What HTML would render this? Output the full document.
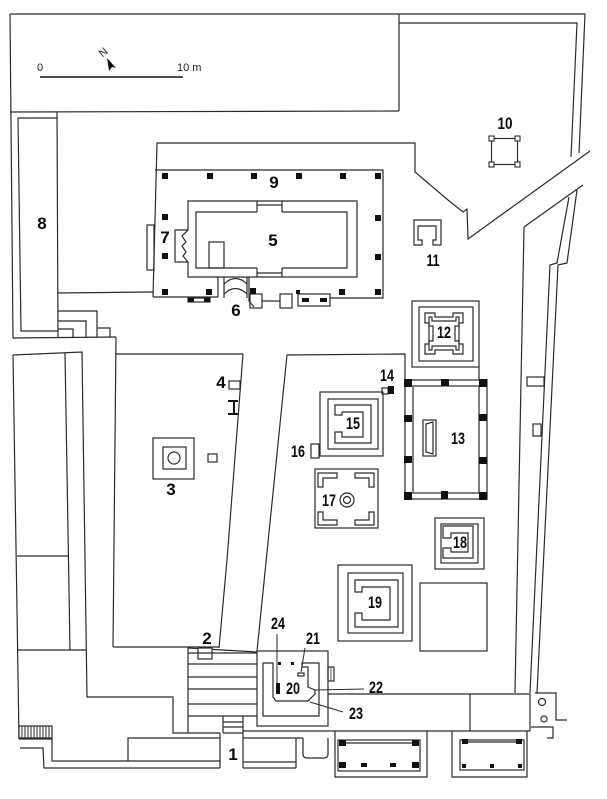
<!DOCTYPE html>
<html><head><meta charset="utf-8"><style>
html,body{margin:0;padding:0;background:#fff;}
svg{display:block}
.l{font-family:"Liberation Sans Narrow","Liberation Sans",sans-serif;font-weight:bold;font-size:17px;fill:#0a0a0a;text-anchor:middle}
.s{font-family:"Liberation Sans",sans-serif;font-size:11px;fill:#222}
</style></head><body>
<svg width="607" height="799" viewBox="0 0 607 799" xmlns="http://www.w3.org/2000/svg">
<rect width="607" height="799" fill="#fff"/>
<g fill="none" stroke="#2a2a2a" stroke-width="1.2" stroke-linejoin="miter">
<!-- top frame -->
<polyline points="10,14 585,14 579,153"/>
<line x1="10" y1="14" x2="13" y2="338"/>
<line x1="10" y1="112" x2="399" y2="111"/>
<line x1="399" y1="14" x2="399" y2="111"/>
<polyline points="399,23 577,23 571,157"/>
<!-- column 8 -->
<line x1="57" y1="112" x2="58" y2="337"/>
<polyline points="57,118 18,118 21,331 58,331"/>
<line x1="58" y1="293" x2="153" y2="292"/>
<polyline points="58,311 97,311 97,337"/>
<polyline points="58,321 86,321 86,337"/>
<polyline points="58,329 73,329 73,337"/>
<polyline points="97,328 110,328 110,337"/>
<line x1="13" y1="338" x2="116" y2="337"/>
<line x1="116" y1="337" x2="113" y2="647"/>
<!-- left courtyard -->
<line x1="116" y1="354" x2="243" y2="354"/>
<polyline points="243,354 227,560 219,648"/>
<line x1="113" y1="647" x2="219" y2="647"/>
<!-- left lower blocks -->
<polyline points="13,355 82,352 87,697 173,697 173,733 220,733"/>
<line x1="13" y1="355" x2="19" y2="739"/>
<line x1="65" y1="353" x2="70" y2="650"/>
<line x1="17" y1="556" x2="68" y2="556"/>
<line x1="17" y1="650" x2="86" y2="650"/>
<rect x="19" y="726" width="33" height="12"/>
<path d="M22,726V738M25,726V738M28,726V738M31,726V738M34,726V738M37,726V738M40,726V738M43,726V738M46,726V738M49,726V738" stroke-width="1"/>
<polyline points="19,739 52,739 52,761 220,761"/>
<polyline points="20,748 43,748 44,768 220,768"/>
<polyline points="128,761 128,738 220,738"/>
<line x1="220" y1="733" x2="220" y2="768"/>
<!-- stairs -->
<line x1="188" y1="647" x2="188" y2="733"/>
<line x1="188" y1="648" x2="257" y2="652"/>
<rect x="198" y="648" width="14" height="11" fill="#fff"/>
<path d="M188,653H257M188,664H257M188,677H257M188,689H257M188,704H257M188,716H257"/>
<path d="M223,716V733M243,716V768M223,722H243M223,727H243M223,733H243"/>
<line x1="243" y1="738" x2="303" y2="738"/>
<line x1="243" y1="731" x2="530" y2="731"/>
<path d="M243,762H296M296,738V768M243,768H296"/>
<!-- enclosure 20 -->
<rect x="257" y="651" width="71" height="75"/>
<path d="M263,663 H273 V697 L276,701 H308 L315,694 V690 L308,687 V667 L302,667 V663 H319 V716 H263 Z"/>
<rect x="298" y="673" width="6" height="3"/>
<line x1="305" y1="648" x2="301" y2="672" stroke-width="1"/>
<line x1="277" y1="634" x2="277" y2="683" stroke-width="1"/>
<line x1="315" y1="690" x2="364" y2="689" stroke-width="1"/>
<line x1="310" y1="702" x2="343" y2="712" stroke-width="1"/>
<rect x="328" y="667" width="6" height="14"/>
<line x1="331" y1="667" x2="331" y2="681" stroke-width="0.8"/>
<!-- band -->
<path d="M328,694H530V731M470,694V731"/>
<polyline points="535,693 556,693 556,720 567,720"/>
<circle cx="542" cy="702" r="3.5"/>
<circle cx="544" cy="719" r="3"/>
<polyline points="531,727 553,727 553,738 547,738"/>
<!-- lower buildings -->
<path d="M303,738 V754 Q303,758 307,758 H324 Q328,758 328,754 V738"/>
<polyline points="335,731 335,777 427,777 427,731"/>
<rect x="338" y="740" width="82" height="31"/>
<line x1="342" y1="743" x2="415" y2="743"/>
<polyline points="452,731 452,777 527,777 527,731"/>
<rect x="460" y="740" width="64" height="30"/>
<line x1="465" y1="742" x2="519" y2="742"/>
<!-- temple platform -->
<polyline points="153,297 157,143 415,143 415,172 448,200 463,212 467,209 468,239 590,151"/>
<polyline points="155,170 383,170 383,298 330,298"/>
<line x1="153" y1="297" x2="218" y2="297"/>
<line x1="218" y1="277" x2="218" y2="297"/>
<rect x="147" y="225" width="7" height="45"/>
<!-- temple 5 -->
<path d="M188,201 H357 V277 H188 V262 L183,256 L186,252 L182,246 L186,242 L182,236 L188,230 Z"/>
<path d="M188,230 H175 V262 H188"/>
<path d="M257,212 H196 V268 H257 M282,268 H347 V212 H282"/>
<path d="M257,201 V212 M282,201 V212 M257,205 H282 M257,268 V277 M282,268 V277 M257,273 H282"/>
<rect x="209" y="242" width="15" height="26"/>
<!-- 6 -->
<path d="M224,277 V298 M224,284 Q235.5,273 247,284 M224,294 Q235.5,283 247,294 M247,277 V298 M249,277 V301 L254,307"/>
<rect x="250" y="294" width="12" height="14"/>
<line x1="262" y1="301" x2="280" y2="301"/>
<rect x="280" y="294" width="12" height="14"/>
<rect x="298" y="294" width="32" height="12"/>
<rect x="188" y="298" width="22" height="4"/>
<!-- 10 -->
<rect x="491.5" y="138.5" width="26" height="26"/>
<!-- 11 -->
<path d="M414,245 V220 H441 V245 H433 V240 H436 V226 H418 V240 H422 V245 Z"/>
<!-- right boundary -->
<line x1="583" y1="185" x2="524" y2="227"/>
<line x1="524" y1="227" x2="515" y2="693"/>
<polyline points="569,197 557,263 550,265 530,693"/>
<polyline points="577,190 567,263 558,265 537,693"/>
<rect x="527" y="377" width="17" height="9"/>
<rect x="533" y="424" width="8" height="12"/>
<!-- courtyard -->
<polyline points="257,651 287,355 405,354 405,380"/>
<!-- 12 -->
<rect x="412" y="301" width="67" height="66"/>
<rect x="419" y="307" width="54" height="54"/>
<line x1="479" y1="367" x2="479" y2="380"/>
<path d="M425,313 H435 V317 H453 V313 H463 V323 H459 V344 H463 V354 H453 V350 H435 V354 H425 V344 H429 V323 H425 Z"/>
<path d="M429,317 H432 V321 H456 V317 H459 V326 H455 V341 H459 V350 H456 V346 H432 V350 H429 V341 H433 V326 H429 Z"/>
<!-- 13 -->
<rect x="405" y="380" width="82" height="119"/>
<rect x="413" y="386" width="66" height="107"/>
<rect x="423" y="420" width="13" height="36"/>
<polygon points="426,424 433,422 433,454 426,452"/>
<!-- 14 -->
<rect x="382" y="388" width="6" height="6"/>
<!-- 15 -->
<rect x="320" y="392" width="63" height="64"/>
<rect x="328" y="399" width="50" height="50"/>
<path d="M335,405 H371 V443 H335 V432 H342 V437 H363 V412 H342 V415 H335 Z"/>
<!-- 16 -->
<rect x="311" y="444" width="8" height="14"/>
<!-- 17 -->
<rect x="315" y="469" width="63" height="59"/>
<path d="M318,473 H337 V478 H323 V487 H318 Z"/>
<path d="M374,473 H355 V478 H369 V487 H374 Z"/>
<path d="M318,525 H337 V520 H323 V512 H318 Z"/>
<path d="M374,525 H355 V520 H369 V512 H374 Z"/>
<circle cx="347" cy="500" r="7"/>
<circle cx="347" cy="500" r="3.5"/>
<!-- 18 -->
<rect x="435" y="518" width="49" height="51"/>
<rect x="441" y="524" width="37" height="39"/>
<path d="M443,526 H473 V558 H443 V548 H451 V552 H468 V533 H451 V538 H443 Z"/>
<!-- 19 -->
<rect x="338" y="565" width="74" height="76"/>
<rect x="348" y="573" width="55" height="60"/>
<path d="M355,580 H398 V627 H355 V613 H362 V620 H390 V587 H362 V592 H355 Z"/>
<rect x="420" y="583" width="67" height="68"/>
<!-- 3,4 -->
<rect x="153" y="438" width="41" height="41"/>
<rect x="163" y="447" width="23" height="22"/>
<circle cx="174" cy="458" r="6"/>
<rect x="208" y="454" width="9" height="8"/>
<rect x="229" y="381" width="11" height="8"/>
<!-- scale bar -->
<line x1="40" y1="77" x2="183" y2="77" stroke="#111" stroke-width="1.4"/>
</g>
<!-- filled black -->
<g fill="#111" stroke="none">
<rect x="162" y="173" width="6" height="6"/><rect x="207" y="173" width="6" height="6"/><rect x="251" y="173" width="6" height="6"/><rect x="296" y="173" width="6" height="6"/><rect x="340" y="173" width="6" height="6"/><rect x="375" y="173" width="6" height="6"/>
<rect x="162" y="214" width="6" height="6"/><rect x="162" y="253" width="6" height="6"/><rect x="162" y="289" width="6" height="6"/>
<rect x="206" y="289" width="6" height="6"/><rect x="250" y="288" width="6" height="6"/><rect x="339" y="289" width="6" height="6"/><rect x="375" y="289" width="6" height="6"/>
<rect x="375" y="215" width="6" height="6"/><rect x="375" y="254" width="6" height="6"/>
<rect x="296" y="290" width="4" height="4"/>
<rect x="302" y="298" width="7" height="4"/><rect x="320" y="298" width="7" height="4"/>
<rect x="188" y="298" width="6" height="4"/><rect x="204" y="298" width="6" height="4"/>
<rect x="404" y="379" width="8" height="8"/><rect x="441" y="379" width="8" height="7"/><rect x="479" y="379" width="8" height="8"/>
<rect x="404" y="415" width="8" height="7"/><rect x="404" y="456" width="8" height="7"/>
<rect x="479" y="414" width="8" height="7"/><rect x="479" y="457" width="8" height="7"/>
<rect x="404" y="492" width="8" height="8"/><rect x="441" y="491" width="7" height="8"/><rect x="479" y="492" width="8" height="8"/>
<rect x="388" y="386" width="6" height="8"/>
<rect x="228" y="400" width="10" height="2"/><rect x="233" y="400" width="2" height="15"/><rect x="228" y="413" width="10" height="2"/>
<rect x="278" y="662" width="3" height="3"/><rect x="291" y="662" width="3" height="3"/>
<rect x="276" y="683" width="4" height="11"/>
<rect x="339" y="740" width="7" height="6"/><rect x="412" y="740" width="7" height="6"/>
<rect x="339" y="762" width="7" height="6"/><rect x="361" y="763" width="6" height="4"/><rect x="390" y="763" width="6" height="4"/><rect x="412" y="762" width="7" height="6"/>
<rect x="462" y="739" width="6" height="5"/><rect x="516" y="739" width="6" height="5"/>
<rect x="462" y="764" width="4" height="4"/><rect x="490" y="764" width="4" height="4"/><rect x="518" y="764" width="4" height="4"/>
<polygon points="107,58 116,68 112,67 109,71"/>
</g>
<!-- 10 corner squares -->
<g fill="#fff" stroke="#2a2a2a" stroke-width="1.1">
<rect x="489" y="136" width="5" height="5"/><rect x="515" y="136" width="5" height="5"/>
<rect x="489" y="162" width="5" height="5"/><rect x="515" y="162" width="5" height="5"/>
</g>
<!-- scale text -->
<text class="s" x="37" y="71">0</text>
<text class="s" x="177" y="71">10 m</text>
<text class="s" x="103" y="56" transform="rotate(-40 103 52)" text-anchor="middle">N</text>
<!-- labels -->
<g>
<text class="l" x="42" y="229">8</text>
<text class="l" x="274" y="188">9</text>
<text class="l" x="273" y="246">5</text>
<text class="l" x="165" y="243">7</text>
<text class="l" x="236" y="316">6</text>
<text class="l" x="505" y="129" textLength="15" lengthAdjust="spacingAndGlyphs">10</text>
<text class="l" x="433" y="266" textLength="13" lengthAdjust="spacingAndGlyphs">11</text>
<text class="l" x="444" y="338" textLength="14" lengthAdjust="spacingAndGlyphs">12</text>
<text class="l" x="221" y="388">4</text>
<text class="l" x="387" y="381" textLength="14" lengthAdjust="spacingAndGlyphs">14</text>
<text class="l" x="171" y="495">3</text>
<text class="l" x="353" y="429" textLength="14" lengthAdjust="spacingAndGlyphs">15</text>
<text class="l" x="458" y="444" textLength="14" lengthAdjust="spacingAndGlyphs">13</text>
<text class="l" x="298" y="457" textLength="14" lengthAdjust="spacingAndGlyphs">16</text>
<text class="l" x="329" y="506" textLength="14" lengthAdjust="spacingAndGlyphs">17</text>
<text class="l" x="460" y="548" textLength="14" lengthAdjust="spacingAndGlyphs">18</text>
<text class="l" x="375" y="608" textLength="14" lengthAdjust="spacingAndGlyphs">19</text>
<text class="l" x="207" y="644">2</text>
<text class="l" x="278" y="629" textLength="14" lengthAdjust="spacingAndGlyphs">24</text>
<text class="l" x="313" y="644" textLength="14" lengthAdjust="spacingAndGlyphs">21</text>
<text class="l" x="293" y="694" textLength="14" lengthAdjust="spacingAndGlyphs">20</text>
<text class="l" x="376" y="693" textLength="14" lengthAdjust="spacingAndGlyphs">22</text>
<text class="l" x="356" y="719" textLength="14" lengthAdjust="spacingAndGlyphs">23</text>
<text class="l" x="233" y="760">1</text>
</g>
</svg>
</body></html>
